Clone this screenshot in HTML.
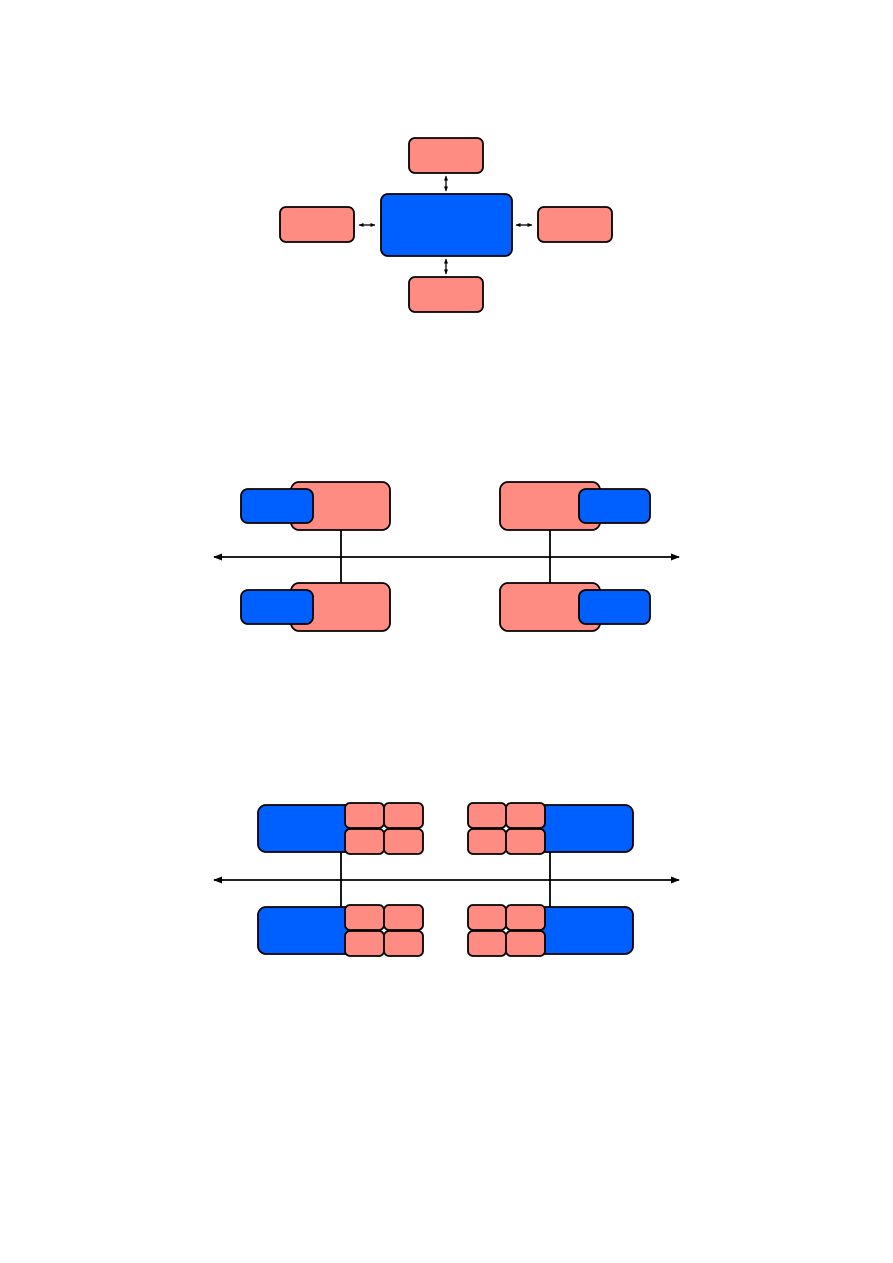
<!DOCTYPE html>
<html><head><style>body{margin:0;background:#fff}svg{display:block}</style></head><body>
<svg width="893" height="1263" viewBox="0 0 893 1263" xmlns="http://www.w3.org/2000/svg">
<defs>
<marker id="a" viewBox="0 0 10 10" refX="9" refY="5" markerWidth="5" markerHeight="5" orient="auto-start-reverse"><path d="M0,1 L10,5 L0,9 z" fill="#000"/></marker>
<marker id="b" viewBox="0 0 10 10" refX="9" refY="5" markerWidth="4" markerHeight="4" orient="auto-start-reverse"><path d="M0,1 L10,5 L0,9 z" fill="#000"/></marker>
</defs>
<g stroke="#000" stroke-width="1.8">
<!-- section 1 -->
<rect x="409" y="138" width="74" height="35" rx="6" fill="#ff8c82"/>
<rect x="381" y="194" width="131" height="62" rx="7" fill="#005fff"/>
<rect x="280" y="207" width="74" height="35" rx="6" fill="#ff8c82"/>
<rect x="538" y="207" width="74" height="35" rx="6" fill="#ff8c82"/>
<rect x="409" y="277" width="74" height="35" rx="6" fill="#ff8c82"/>
<g stroke-width="1.3" fill="none">
<line x1="446" y1="176" x2="446" y2="191" marker-start="url(#b)" marker-end="url(#b)"/>
<line x1="446" y1="259" x2="446" y2="274" marker-start="url(#b)" marker-end="url(#b)"/>
<line x1="359" y1="225" x2="375" y2="225" marker-start="url(#b)" marker-end="url(#b)"/>
<line x1="516" y1="225" x2="532" y2="225" marker-start="url(#b)" marker-end="url(#b)"/>
</g>
<!-- section 2 -->
<line x1="341" y1="530" x2="341" y2="583"/>
<line x1="550" y1="530" x2="550" y2="583"/>
<line x1="214" y1="557" x2="679" y2="557" marker-start="url(#a)" marker-end="url(#a)"/>
<rect x="291" y="482" width="99" height="48" rx="8" fill="#ff8c82"/>
<rect x="241" y="489" width="72" height="34" rx="7" fill="#005fff"/>
<rect x="291" y="583" width="99" height="48" rx="8" fill="#ff8c82"/>
<rect x="241" y="590" width="72" height="34" rx="7" fill="#005fff"/>
<rect x="500" y="482" width="100" height="48" rx="8" fill="#ff8c82"/>
<rect x="579" y="489" width="71" height="34" rx="7" fill="#005fff"/>
<rect x="500" y="583" width="100" height="48" rx="8" fill="#ff8c82"/>
<rect x="579" y="590" width="71" height="34" rx="7" fill="#005fff"/>
<!-- section 3 -->
<line x1="341" y1="852" x2="341" y2="907"/>
<line x1="550" y1="852" x2="550" y2="907"/>
<line x1="214" y1="880" x2="679" y2="880" marker-start="url(#a)" marker-end="url(#a)"/>
<rect x="258" y="805" width="100" height="47" rx="8" fill="#005fff"/>
<rect x="258" y="907" width="100" height="47" rx="8" fill="#005fff"/>
<rect x="533" y="805" width="100" height="47" rx="8" fill="#005fff"/>
<rect x="533" y="907" width="100" height="47" rx="8" fill="#005fff"/>
<g fill="#ff8c82">
<rect x="345" y="803" width="39" height="25" rx="5"/><rect x="384" y="803" width="39" height="25" rx="5"/>
<rect x="345" y="829" width="39" height="25" rx="5"/><rect x="384" y="829" width="39" height="25" rx="5"/>
<rect x="345" y="905" width="39" height="25" rx="5"/><rect x="384" y="905" width="39" height="25" rx="5"/>
<rect x="345" y="931" width="39" height="25" rx="5"/><rect x="384" y="931" width="39" height="25" rx="5"/>
<rect x="468" y="803" width="38" height="25" rx="5"/><rect x="506" y="803" width="39" height="25" rx="5"/>
<rect x="468" y="829" width="38" height="25" rx="5"/><rect x="506" y="829" width="39" height="25" rx="5"/>
<rect x="468" y="905" width="38" height="25" rx="5"/><rect x="506" y="905" width="39" height="25" rx="5"/>
<rect x="468" y="931" width="38" height="25" rx="5"/><rect x="506" y="931" width="39" height="25" rx="5"/>
</g>
</g>
</svg>
</body></html>
